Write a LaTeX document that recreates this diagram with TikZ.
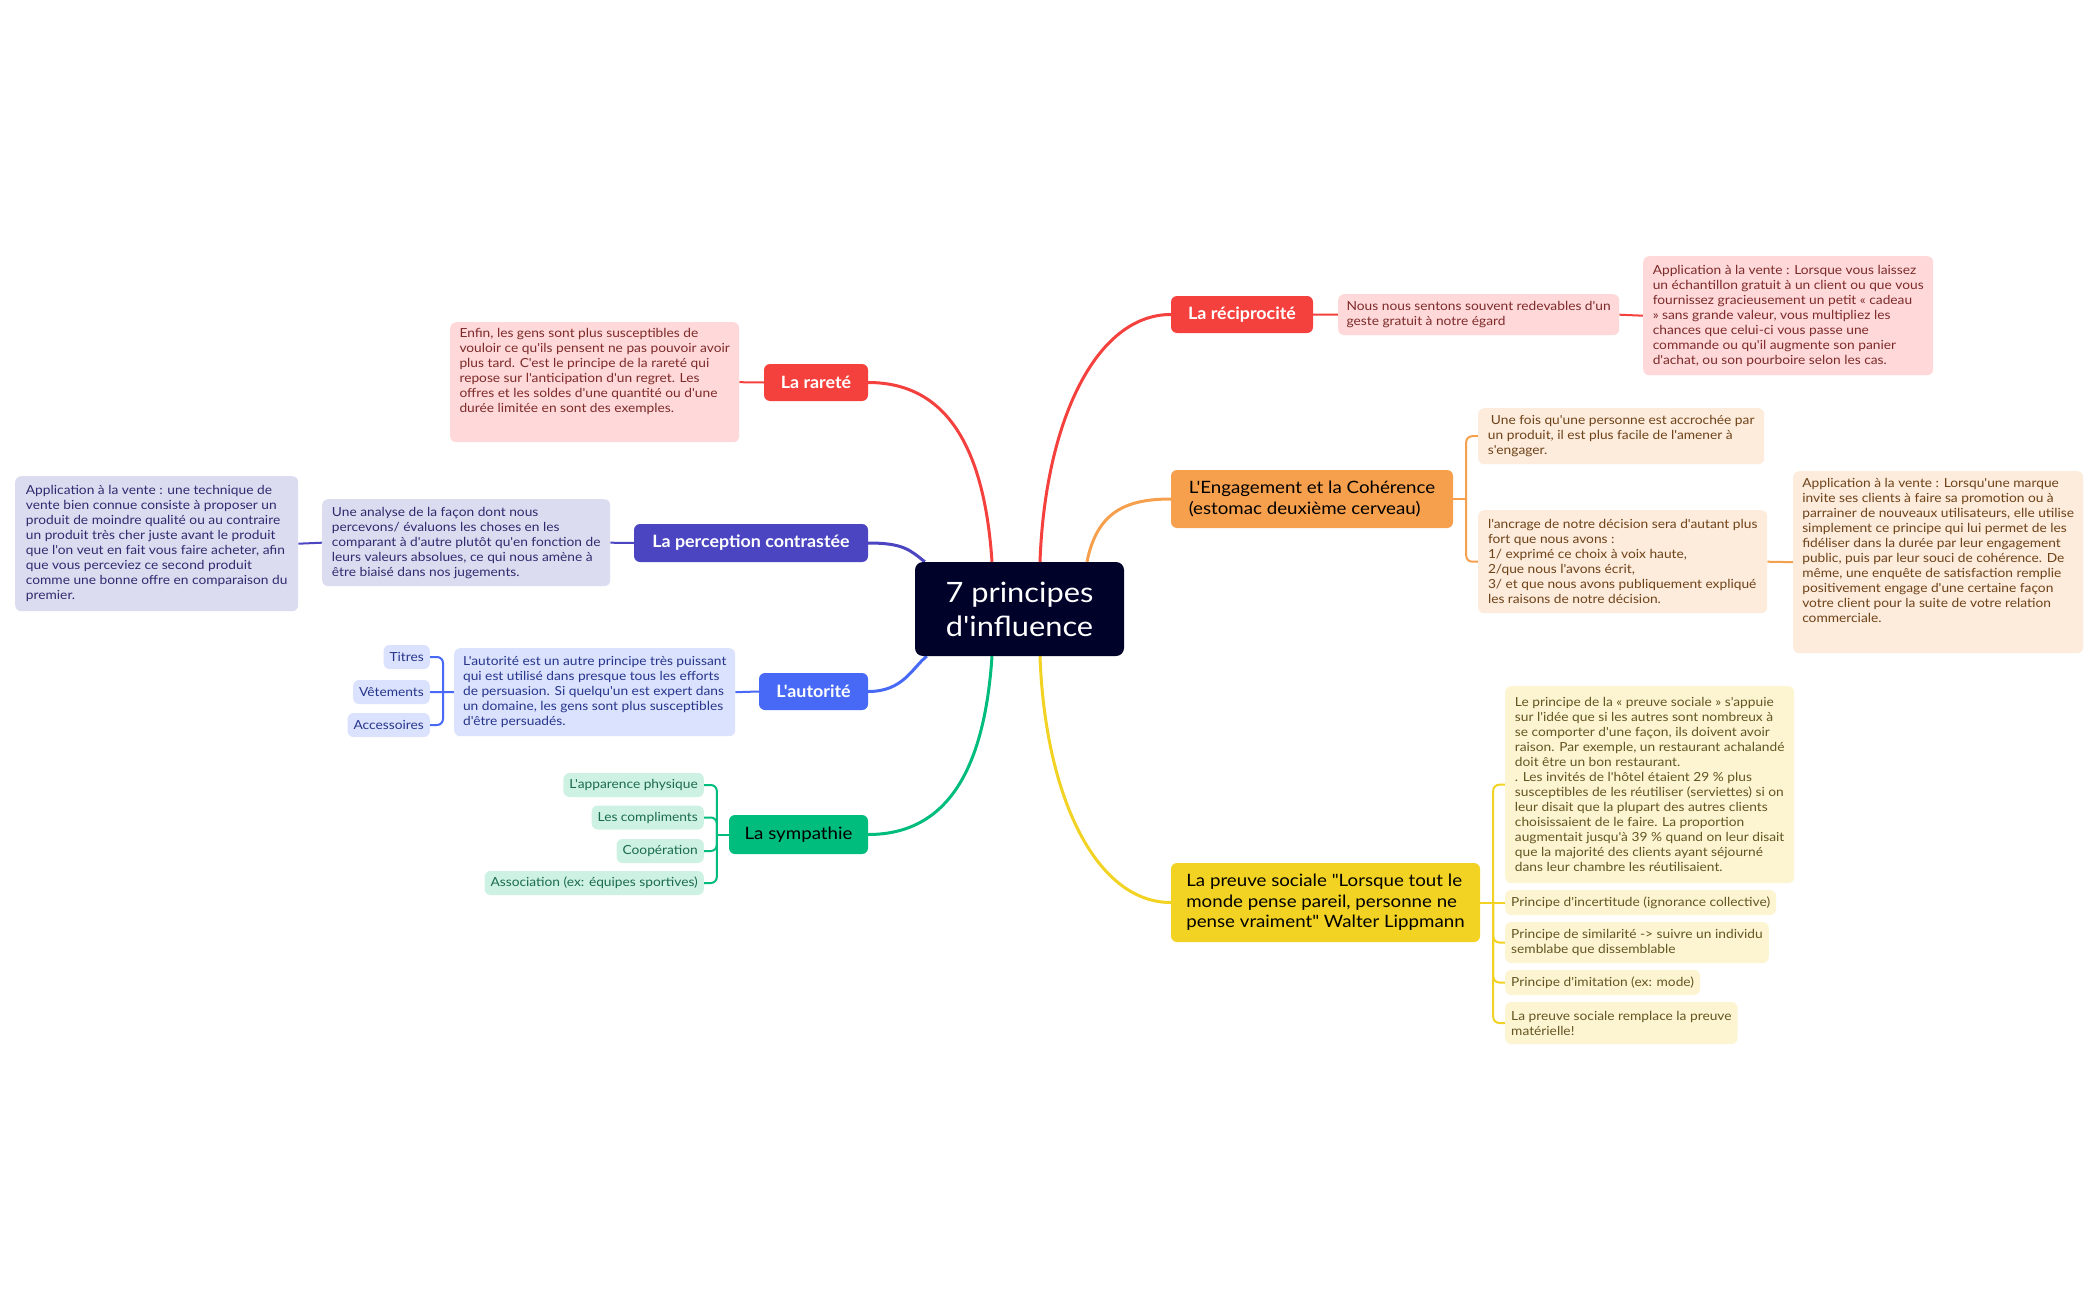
\documentclass[tikz,border=0pt]{standalone}
\usepackage{fontspec}
\newfontfamily\mmfont{Lato}[FakeStretch=1.1]
\newfontfamily\mmbfont{Lato}[FakeStretch=1.05]
\usetikzlibrary{backgrounds}
\definecolor{cred}{HTML}{F5413D}
\definecolor{lred}{HTML}{FFD9D9}
\definecolor{tred}{HTML}{7D2A2A}
\definecolor{cind}{HTML}{4B45C2}
\definecolor{lind}{HTML}{DCDCF1}
\definecolor{tind}{HTML}{2E2B6E}
\definecolor{cblu}{HTML}{4769F6}
\definecolor{lblu}{HTML}{DAE2FD}
\definecolor{tblu}{HTML}{27358C}
\definecolor{cgre}{HTML}{00BC7D}
\definecolor{lgre}{HTML}{CDF2E4}
\definecolor{tgre}{HTML}{1B6B4B}
\definecolor{cora}{HTML}{F6A04D}
\definecolor{lora}{HTML}{FDEBDC}
\definecolor{tora}{HTML}{6E4319}
\definecolor{cyel}{HTML}{F2D323}
\definecolor{lyel}{HTML}{FDF5D2}
\definecolor{tyel}{HTML}{635622}
\definecolor{cnav}{HTML}{000229}
\tikzset{
  sb/.style={rounded corners=6pt, inner xsep=6pt, inner ysep=4pt, align=left, font=\mmfont\fontsize{12.5}{15}\selectfont},
  redsb/.style={sb, fill=lred, text=tred},
  indsb/.style={sb, fill=lind, text=tind},
  blusb/.style={sb, fill=lblu, text=tblu},
  gresb/.style={sb, fill=lgre, text=tgre},
  orasb/.style={sb, fill=lora, text=tora},
  yelsb/.style={sb, fill=lyel, text=tyel},
  br/.style={rounded corners=6pt, inner sep=0pt, font=\mmbfont\bfseries\fontsize{17}{21}\selectfont, text=white},
  brd/.style={rounded corners=6pt, inner sep=0pt, align=left, font=\mmfont\fontsize{17}{20.5}\selectfont, text=black},
  mainln/.style={line width=3pt, draw=#1},
  subln/.style={line width=2pt, draw=#1},
  brc/.style={line width=2pt, draw=#1, rounded corners=6pt},
}
\begin{document}
\begin{tikzpicture}[x=1pt,y=-1pt]
\useasboundingbox (0,0) rectangle (2098,1300);

% center
\node[fill=cnav, rounded corners=8pt, minimum width=209pt, minimum height=94pt, inner sep=0pt, align=center, text=white, font=\mmfont\fontsize{28}{34}\selectfont] (c) at (1019.5,609) {7 principes\\d'influence};

% branches
\node[br, fill=cred, minimum width=104pt, minimum height=37pt] (rar) at (816,382.5) {La rareté};
\node[br, fill=cind, minimum width=234pt, minimum height=38pt] (per) at (751,543) {La perception contrastée};
\node[br, fill=cblu, minimum width=109pt, minimum height=37pt] (aut) at (813.5,691.5) {L'autorité};
\node[brd, fill=cgre, minimum width=139pt, minimum height=39pt] (sym) at (798.5,834.5) {La sympathie};
\node[br, fill=cred, minimum width=142pt, minimum height=37pt] (rec) at (1242,314.5) {La réciprocité};
\node[brd, fill=cora, minimum width=282pt, minimum height=58pt] (eng) at (1312,499) {L'Engagement et la Cohérence\\(estomac deuxième cerveau)};
\node[brd, fill=cyel, minimum width=309pt, minimum height=79pt] (pre) at (1325.5,902.5) {La preuve sociale "Lorsque tout le\\monde pense pareil, personne ne\\pense vraiment" Walter Lippmann};

% rarete
\node[redsb, anchor=north west, minimum width=289pt, minimum height=120pt] (rart) at (450,322) {Enfin, les gens sont plus susceptibles de\\vouloir ce qu'ils pensent ne pas pouvoir avoir\\plus tard. C'est le principe de la rareté qui\\repose sur l'anticipation d'un regret. Les\\offres et les soldes d'une quantité ou d'une\\durée limitée en sont des exemples.\\\rule{0pt}{20pt}};

% perception
\node[indsb, anchor=north west, minimum width=288pt, minimum height=87pt] (pert) at (322,499) {Une analyse de la façon dont nous\\percevons/ évaluons les choses en les\\comparant à d'autre plutôt qu'en fonction de\\leurs valeurs absolues, ce qui nous amène à\\être biaisé dans nos jugements.};
\node[indsb, anchor=north west, minimum width=283pt, minimum height=135pt] (pera) at (15,476) {Application à la vente : une technique de\\vente bien connue consiste à proposer un\\produit de moindre qualité ou au contraire\\un produit très cher juste avant le produit\\que l'on veut en fait vous faire acheter, afin\\que vous perceviez ce second produit\\comme une bonne offre en comparaison du\\premier.};

% autorite
\node[blusb, anchor=north west, minimum width=281pt, minimum height=88pt] (autt) at (454,648) {L'autorité est un autre principe très puissant\\qui est utilisé dans presque tous les efforts\\de persuasion. Si quelqu'un est expert dans\\un domaine, les gens sont plus susceptibles\\d'être persuadés.};
\node[blusb, anchor=east, minimum height=24pt] (tit) at (430,657) {Titres};
\node[blusb, anchor=east, minimum height=24pt] (vet) at (430,692) {Vêtements};
\node[blusb, anchor=east, minimum height=24pt] (acc) at (430,725) {Accessoires};

% sympathie
\node[gresb, anchor=east, minimum height=24pt] (app) at (704,785) {L'apparence physique};
\node[gresb, anchor=east, minimum height=24pt] (com) at (704,817.5) {Les compliments};
\node[gresb, anchor=east, minimum height=24pt] (coo) at (704,851) {Coopération};
\node[gresb, anchor=east, minimum height=24pt] (ass) at (704,883) {Association (ex: équipes sportives)};

% reciprocite
\node[redsb, anchor=north west, minimum width=281pt, minimum height=41pt] (rect) at (1338,294) {Nous nous sentons souvent redevables d'un\\geste gratuit à notre égard};
\node[redsb, anchor=north west, minimum width=290pt, minimum height=119pt] (reca) at (1643,256) {Application à la vente : Lorsque vous laissez\\un échantillon gratuit à un client ou que vous\\fournissez gracieusement un petit « cadeau\\» sans grande valeur, vous multipliez les\\chances que celui-ci vous passe une\\commande ou qu'il augmente son panier\\d'achat, ou son pourboire selon les cas.};

% engagement
\node[orasb, anchor=north west, minimum width=286pt, minimum height=56pt] (eng1) at (1478,408) {\hspace*{3pt}Une fois qu'une personne est accrochée par\\un produit, il est plus facile de l'amener à\\s'engager.};
\node[orasb, anchor=north west, minimum width=289pt, minimum height=103pt] (eng2) at (1478,510) {l'ancrage de notre décision sera d'autant plus\\fort que nous avons :\\1/ exprimé ce choix à voix haute,\\2/que nous l'avons écrit,\\3/ et que nous avons publiquement expliqué\\les raisons de notre décision.};
\node[orasb, anchor=north west, minimum width=290pt, minimum height=182pt] (enga) at (1793,471) {Application à la vente : Lorsqu'une marque\\invite ses clients à faire sa promotion ou à\\parrainer de nouveaux utilisateurs, elle utilise\\simplement ce principe qui lui permet de les\\fidéliser dans la durée par leur engagement\\public, puis par leur souci de cohérence. De\\même, une enquête de satisfaction remplie\\positivement engage d'une certaine façon\\votre client pour la suite de votre relation\\commerciale.\\\rule{0pt}{22pt}};

% preuve sociale
\node[yelsb, anchor=north west, minimum width=289pt, minimum height=197pt] (pre1) at (1505,686) {Le principe de la « preuve sociale » s'appuie\\sur l'idée que si les autres sont nombreux à\\se comporter d'une façon, ils doivent avoir\\raison. Par exemple, un restaurant achalandé\\doit être un bon restaurant.\\. Les invités de l'hôtel étaient 29 \% plus\\susceptibles de les réutiliser (serviettes) si on\\leur disait que la plupart des autres clients\\choisissaient de le faire. La proportion\\augmentait jusqu'à 39 \% quand on leur disait\\que la majorité des clients ayant séjourné\\dans leur chambre les réutilisaient.};
\node[yelsb, anchor=west, minimum height=25pt] (pinc) at (1505,902.5) {Principe d'incertitude (ignorance collective)};
\node[yelsb, anchor=west, minimum height=41pt] (psim) at (1505,942.5) {Principe de similarité -> suivre un individu\\semblabe que dissemblable};
\node[yelsb, anchor=west, minimum height=25pt] (pimi) at (1505,982.5) {Principe d'imitation (ex: mode)};
\node[yelsb, anchor=west, minimum height=42pt] (prem) at (1505,1023) {La preuve sociale remplace la preuve\\matérielle!};

% junctions
\coordinate (autj) at ([xshift=-11pt]autt.west);
\coordinate (symj) at ([xshift=-12pt]sym.west);
\coordinate (engj) at ([xshift=13pt]eng.east);
\coordinate (prej) at ([xshift=13pt]pre.east);

\begin{scope}[on background layer]
\fill[white] (0,0) rectangle (2098,1300);
% main curves
\draw[mainln=cred] (rar.east) .. controls +(75,0) and +(-8,-120) .. ([xshift=-27.5pt]c.north);
\draw[mainln=cind] (per.east) .. controls +(35,0) and +(-15,-12) .. ([xshift=10pt]c.north west);
\draw[mainln=cblu] (aut.east) .. controls +(35,0) and +(-15,12) .. ([xshift=12pt]c.south west);
\draw[mainln=cgre] (sym.east) .. controls +(75,0) and +(-8,120) .. ([xshift=-27.5pt]c.south);
\draw[mainln=cred] ([xshift=20.5pt]c.north) .. controls +(5,-140) and +(-75,0) .. (rec.west);
\draw[mainln=cora] ([xshift=67.5pt]c.north) .. controls +(10,-50) and +(-45,0) .. (eng.west);
\draw[mainln=cyel] ([xshift=20.5pt]c.south) .. controls +(5,140) and +(-75,0) .. (pre.west);
% rarete
\draw[subln=cred] (rar.west) -- (rart.east);
% perception
\draw[subln=cind] (per.west) -- (pert.east);
\draw[subln=cind] (pert.west) -- (pera.east);
% autorite
\draw[subln=cblu] (aut.west) -- (autt.east);
\draw[subln=cblu] (autt.west) -- (vet.east);
\draw[brc=cblu] (autj) |- (tit.east);
\draw[brc=cblu] (autj) |- (acc.east);
% sympathie
\draw[subln=cgre] (sym.west) -- (symj);
\draw[brc=cgre] (symj) |- (app.east);
\draw[brc=cgre] (symj) |- (com.east);
\draw[brc=cgre] (symj) |- (coo.east);
\draw[brc=cgre] (symj) |- (ass.east);
% reciprocite
\draw[subln=cred] (rec.east) -- (rect.west);
\draw[subln=cred] (rect.east) -- (reca.west);
% engagement
\draw[subln=cora] (eng.east) -- (engj);
\draw[brc=cora] (engj) |- (eng1.west);
\draw[brc=cora] (engj) |- (eng2.west);
\draw[subln=cora] (eng2.east) -- (enga.west);
% preuve
\draw[subln=cyel] (pre.east) -- (pinc.west);
\draw[brc=cyel] (prej) |- (pre1.west);
\draw[brc=cyel] (prej) |- (psim.west);
\draw[brc=cyel] (prej) |- (pimi.west);
\draw[brc=cyel] (prej) |- (prem.west);
\end{scope}
\end{tikzpicture}
\end{document}
